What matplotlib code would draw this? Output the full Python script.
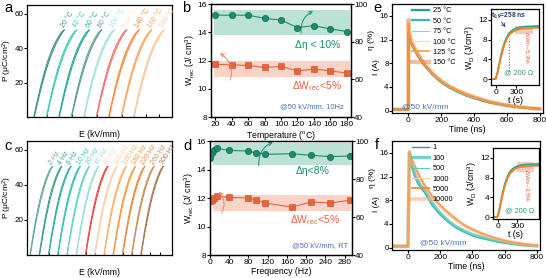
import matplotlib
matplotlib.use("Agg")
import matplotlib.pyplot as plt
import numpy as np

plt.rcParams['font.family'] = ['Liberation Sans', 'DejaVu Sans']
plt.rcParams['mathtext.default'] = 'regular'
plt.rcParams['font.size'] = 6
plt.rcParams['axes.linewidth'] = 0.9
plt.rcParams['xtick.major.size'] = 2.2
plt.rcParams['ytick.major.size'] = 2.2
plt.rcParams['xtick.major.pad'] = 1.0
plt.rcParams['ytick.major.pad'] = 0.7

# ---------- data ----------
# P-E loop shape (one branch up, one down), shifted per curve
pe_E = [0, 4, 8, 12, 16, 20, 24, 28, 32, 36, 40, 44, 48]
pe_P_up = [0, 6.4, 12.5, 18.2, 23.5, 28.4, 32.8, 36.7, 40.2, 43.3, 46.0, 48.4, 50.5]
pe_P_down = [1.0, 7.8, 14.3, 20.2, 25.6, 30.5, 34.8, 38.6, 41.9, 44.8, 47.3, 49.3, 50.5]

a_labels = ['20 °C', '40 °C', '60 °C', '80 °C', '100 °C', '120 °C', '140 °C', '160 °C', '180 °C']
a_shift = [0, 20, 40, 60, 80, 100, 120, 140, 160]
a_colors = ['#3a8f80', '#3ccab8', '#22a898', '#5a9c90', '#a0e4d4', '#f07070', '#f88a3c', '#fba560', '#fcc79a']
a_text_colors = ['#3a8f80', '#3ccab8', '#22a898', '#5a9c90', '#a0e4d4', '#fde5cc', '#f88a3c', '#fba560', '#fcc79a']

c_labels = ['2 Hz', '4 Hz', '8 Hz', '10 Hz', '20 Hz', '40 Hz', '60 Hz', '100 Hz', '120 Hz',
            '180 Hz', '220 Hz', '260 Hz', '300 Hz']
c_shift = [0, 20, 40, 60, 80, 100, 120, 140, 160, 180, 200, 220, 240]
c_colors = ['#6aa89c', '#3aa090', '#2fb0a0', '#2ec4b4', '#5fd4c4', '#a0e0d0', '#e84848', '#fcd0a8',
            '#fbb070', '#f99a40', '#e98a40', '#d09060', '#b07850']
c_text_colors = ['#6aa89c', '#3aa090', '#2fb0a0', '#2ec4b4', '#5fd4c4', '#a0e0d0', '#fbe0c8', '#fcd0a8',
                 '#fbb070', '#f99a40', '#e98a40', '#d09060', '#b07850']

# panel b: temperature stability
b_T = [20, 40, 60, 80, 100, 120, 140, 160, 180]
b_eta = [94.1, 94.1, 94.1, 92.4, 91.5, 87.5, 88.5, 86.8, 85.4]
b_W = [11.74, 11.69, 11.65, 11.51, 11.58, 11.27, 11.39, 11.27, 11.11]

# panel d: frequency stability
d_f = [1, 4, 8, 14, 40, 80, 95, 115, 170, 210, 250, 290]
d_eta = [91.2, 93.9, 95.3, 96.1, 95.1, 94.7, 93.8, 93.0, 93.3, 92.5, 91.8, 92.1]
d_W = [11.77, 11.88, 12.0, 12.12, 12.05, 12.0, 11.88, 11.65, 11.36, 11.72, 11.65, 11.84]

# panel e: discharge current vs temperature
e_t = [-100, -1, 0, 4, 10, 25, 50, 75, 100, 150, 200, 250, 300, 350, 400, 450, 500, 550, 600, 650, 700, 750, 800]
e_I_25 = [0.2, 0.2, 13.0, 12.6, 12.0, 10.9, 9.6, 8.5, 7.6, 6.0, 4.8, 3.9, 3.2, 2.6, 2.1, 1.7, 1.35, 1.1, 0.85, 0.65, 0.5, 0.4, 0.3]
e_I_50 = [0.2, 0.2, 13.3, 12.8, 12.1, 11.0, 9.7, 8.6, 7.6, 6.0, 4.8, 3.9, 3.2, 2.6, 2.2, 1.8, 1.4, 1.15, 0.9, 0.7, 0.55, 0.4, 0.3]
e_I_75 = [0.2, 0.2, 13.6, 12.9, 12.2, 11.0, 9.7, 8.6, 7.7, 6.1, 4.9, 4.0, 3.3, 2.7, 2.2, 1.8, 1.45, 1.15, 0.9, 0.7, 0.55, 0.4, 0.3]
e_I_100 = [0.2, 0.2, 14.2, 13.0, 12.3, 11.1, 9.8, 8.7, 7.7, 6.1, 4.9, 4.0, 3.3, 2.7, 2.2, 1.8, 1.45, 1.15, 0.9, 0.7, 0.55, 0.4, 0.3]
e_I_125 = [0.2, 0.2, 14.8, 13.1, 12.4, 11.2, 9.9, 8.8, 7.8, 6.2, 5.0, 4.1, 3.4, 2.8, 2.3, 1.85, 1.45, 1.15, 0.9, 0.7, 0.55, 0.4, 0.3]
e_I_150 = [0.2, 0.2, 15.3, 13.2, 12.4, 11.2, 9.9, 8.8, 7.8, 6.2, 5.0, 4.1, 3.4, 2.8, 2.3, 1.85, 1.45, 1.15, 0.9, 0.7, 0.55, 0.4, 0.3]
e_names = ['25 °C', '50 °C', '75 °C', '100 °C', '125 °C', '150 °C']

# panel f: discharge current vs cycles
f_t = [-100, -1, 8, 15, 25, 50, 75, 100, 150, 200, 250, 300, 350, 400, 450, 500, 550, 600, 650, 700, 750, 800]
f_I_1 = [0.2, 0.2, 15.8, 14.6, 13.4, 11.4, 10.2, 9.4, 7.1, 5.5, 4.3, 3.3, 2.6, 2.0, 1.6, 1.3, 1.0, 0.8, 0.6, 0.45, 0.35, 0.3]
f_I_100 = [0.2, 0.2, 16.0, 14.9, 13.7, 11.8, 10.6, 9.9, 7.5, 5.8, 4.5, 3.5, 2.8, 2.2, 1.8, 1.45, 1.15, 0.9, 0.7, 0.5, 0.4, 0.3]
f_I_500 = [0.2, 0.2, 16.0, 14.8, 13.6, 11.6, 10.4, 9.6, 7.3, 5.6, 4.4, 3.4, 2.7, 2.1, 1.7, 1.35, 1.05, 0.85, 0.65, 0.5, 0.35, 0.3]
f_I_1000 = [0.3, 0.3, 16.2, 15.4, 14.6, 13.2, 11.8, 10.6, 8.6, 7.1, 5.8, 4.7, 3.7, 3.0, 2.4, 1.9, 1.5, 1.15, 0.9, 0.65, 0.5, 0.35]
f_I_5000 = [0.3, 0.3, 16.3, 15.5, 14.7, 13.3, 11.9, 10.7, 8.7, 7.2, 5.9, 4.8, 3.8, 3.1, 2.5, 2.0, 1.55, 1.2, 0.9, 0.7, 0.5, 0.35]
f_I_10000 = [0.3, 0.3, 16.1, 15.3, 14.5, 13.1, 11.7, 10.5, 8.5, 7.0, 5.7, 4.6, 3.7, 3.0, 2.4, 1.9, 1.5, 1.15, 0.9, 0.65, 0.5, 0.35]
f_names = ['1', '100', '500', '1000', '5000', '10000']

# insets: discharged energy density
wd_t = [-70, -5, 0, 25, 50, 75, 100, 125, 150, 175, 200, 250, 300, 350, 400, 450, 500, 550, 600, 630]
wd_teal = [0, 0, 0.1, 1.4, 3.1, 4.8, 6.2, 7.3, 8.2, 8.9, 9.4, 10.0, 10.3, 10.5, 10.6, 10.65, 10.7, 10.72, 10.75, 10.75]
wd_orange = [0, 0, 0.1, 1.2, 2.8, 4.4, 5.8, 6.9, 7.8, 8.5, 9.0, 9.6, 9.95, 10.15, 10.25, 10.3, 10.35, 10.38, 10.4, 10.4]

e_styles = [('#2aa090', 1.6, 1.0), ('#30bfb0', 1.6, 1.0), ('#7adccc', 0.8, 1.0),
            ('#fdd9b5', 0.8, 1.0), ('#f7a040', 1.2, 1.0), ('#f08a40', 3.0, 0.55)]
f_styles = [('#2a9c90', 1.0, 1.0), ('#40c0b0', 2.4, 0.7), ('#50d0c0', 0.7, 1.0),
            ('#fcd0a0', 0.8, 1.0), ('#f58a2a', 1.3, 1.0), ('#f8b080', 2.6, 0.6)]

green = '#1b8c6e'
green_dark = '#0e5e48'
orange = '#e8623a'
blue_txt = '#4a72c0'

fig = plt.figure(figsize=(5.46, 2.78), dpi=100)


def pe_panel(ax, shifts, colors, labels, text_colors, xlim, txt_dx, txt_y):
    for s, col, lab, tc in zip(shifts, colors, labels, text_colors):
        E = np.array(pe_E) + s
        ax.plot(E, pe_P_up, color=col, lw=0.8)
        ax.plot(E, pe_P_down, color=col, lw=0.8)
        ax.text(E[-1] + txt_dx, txt_y, lab, color=tc, fontsize=5.0, rotation=57,
                rotation_mode='anchor', ha='left', va='baseline')
    ax.set_xlim(xlim)
    ax.set_ylim(0, 65)
    ax.set_yticks([20, 40, 60])
    ax.set_xticks(shifts + [shifts[-1] + 20, shifts[-1] + 40])
    ax.tick_params(axis='x', direction='in', labelbottom=False, length=2.2)
    ax.tick_params(axis='y', labelsize=5.8, length=2.0, pad=0.4)
    ax.set_xlabel('E (kV/mm)', fontsize=6.2, labelpad=9)
    ax.set_ylabel('P (μC/cm$^2$)', fontsize=6.0, labelpad=0.3)


ax_a = fig.add_axes([0.0495, 0.579, 0.2656, 0.403])
pe_panel(ax_a, a_shift, a_colors, a_labels, a_text_colors, (-11.6, 221), -1, 51.5)
ax_c = fig.add_axes([0.0495, 0.0827, 0.2656, 0.41])
pe_panel(ax_c, c_shift, c_colors, c_labels, c_text_colors, (-7, 307), -1, 51.5)


def stab_panel(ax, x, eta, W, xlim, xticks, xlabel, gband, oband, texts, garrow, oarrow):
    ax.axhspan(gband[0], gband[1], xmin=0.02, xmax=0.99, color='#8fd0b8', alpha=0.6, lw=0)
    ax.axhspan(oband[0], oband[1], xmin=0.02, xmax=0.99, color='#f5b8a0', alpha=0.6, lw=0)
    ax.plot(x, W, color=orange, lw=0.8, marker='s', ms=4.2, mfc=orange, mec='#c84a28', mew=0.4)
    ax.set_xlim(xlim)
    ax.set_ylim(8, 16)
    ax.set_yticks([8, 10, 12, 14, 16])
    ax.set_xticks(xticks)
    ax.set_xlabel(xlabel, fontsize=6.3, labelpad=0.5)
    ax.set_ylabel('W$_{rec}$ (J/ cm$^3$)', fontsize=6.3, labelpad=0.5)
    ax2 = ax.twinx()
    ax2.plot(x, eta, color=green, lw=0.8, marker='o', ms=4.6, mfc=green, mec=green_dark, mew=0.4)
    ax2.set_ylim(40, 100)
    ax2.set_yticks([40, 60, 80, 100])
    ax2.tick_params(labelsize=5.8, length=2.0, pad=0.4)
    ax2.set_ylabel('η (%)', fontsize=6.0, labelpad=0.2)
    ax2.yaxis.label.set_y(0.68)
    t1, t2, t3 = texts
    ax.text(t1[0], t1[1], t1[2], transform=ax.transAxes, color=green, fontsize=7.5, ha='center', va='center')
    ax.text(t2[0], t2[1], t2[2], transform=ax.transAxes, color=orange, fontsize=7.5, ha='center', va='center')
    ax.text(t3[0], t3[1], t3[2], transform=ax.transAxes, color=blue_txt, fontsize=5.5, ha='center', va='center')
    ax.annotate('', xy=garrow[1], xytext=garrow[0],
                arrowprops=dict(arrowstyle='->', color=green, lw=0.7, connectionstyle='arc3,rad=-0.4'),
                annotation_clip=False)
    ax.annotate('', xy=oarrow[1], xytext=oarrow[0],
                arrowprops=dict(arrowstyle='->', color='#f08060', lw=0.7, connectionstyle='arc3,rad=0.4'),
                annotation_clip=False)
    return ax2


ax_b = fig.add_axes([0.3864, 0.579, 0.2564, 0.4065])
stab_panel(ax_b, b_T, b_eta, b_W, (15, 185), [20, 40, 60, 80, 100, 120, 140, 160, 180],
           'Temperature ($^o$C)', (13.79, 15.58), (10.82, 11.98),
           [(0.76, 0.637, 'Δη < 10%'), (0.757, 0.274, 'ΔW$_{rec}$<5%'), (0.72, 0.097, '@50 kV/mm, 10Hz')],
           [(125, 13.74), (142, 15.58)], [(37.7, 10.43), (23, 12.63)])

ax_d = fig.add_axes([0.3846, 0.0827, 0.26, 0.41])
stab_panel(ax_d, d_f, d_eta, d_W, (0, 295), [0, 40, 80, 120, 160, 200, 240, 280],
           'Frequency (Hz)', (14.35, 15.88), (11.06, 12.24),
           [(0.725, 0.737, 'Δη<8%'), (0.74, 0.31, 'ΔW$_{rec}$<5%'), (0.775, 0.085, '@50 kV/mm, RT')],
           [(102, 14.07), (136, 16.0)], [(21.5, 10.78), (15, 12.58)])


def current_panel(ax, t, series, names, styles, txt_pos):
    for I, name, (col, lw, al) in zip(series, names, styles):
        ax.plot(t, I, color=col, lw=lw, alpha=al, label=name)
    ax.set_xlim(-100, 820)
    ax.set_ylim(-0.4, 18)
    ax.set_xticks([0, 200, 400, 600, 800])
    ax.set_yticks([0, 4, 8, 12, 16])
    ax.tick_params(axis='y', labelsize=5.8, length=2.0, pad=0.4)
    ax.set_xlabel('Time (ns)', fontsize=6.3, labelpad=0.5)
    ax.set_ylabel('I (A)', fontsize=6.0, labelpad=0.1)
    ax.yaxis.label.set_y(0.42)
    ax.legend(loc='upper left', bbox_to_anchor=(0.1, 1.02), frameon=False, fontsize=5.3,
              handlelength=2.3, labelspacing=0.45, handletextpad=0.5, borderpad=0.2)
    ax.text(txt_pos[0], txt_pos[1], '@50 kV/mm', transform=ax.transAxes, color=blue_txt,
            fontsize=6, ha='center', va='center')


def inset_panel(ax, box, dtext, ylim):
    ax.add_patch(plt.Rectangle((box[0], box[2]), box[1] - box[0], box[3] - box[2],
                               color='#e8a898', alpha=0.6, lw=0))
    ax.plot(wd_t, wd_teal, color='#2aa890', lw=1.3)
    ax.plot(wd_t, wd_orange, color='#f58020', lw=1.3)
    ax.set_xlim(-70, 630)
    ax.set_ylim(ylim)
    ax.set_xticks([0, 300])
    ax.set_yticks([0, 4, 8, 12])
    ax.tick_params(labelsize=6, length=2, pad=0.7)
    ax.set_xlabel('t (s)', fontsize=6.3, labelpad=0)
    ax.set_ylabel('W$_D$ (J/cm$^3$)', fontsize=6.3, labelpad=0.5)
    ax.text(440, 6.3, dtext, color='#f05030', fontsize=4.5, rotation=-90, ha='center', va='center')
    ax.text(330, 1.3, '@ 200 Ω', color='#2a9a70', fontsize=5.3, ha='center', va='center')


ax_e = fig.add_axes([0.718, 0.5935, 0.2766, 0.392])
current_panel(ax_e, e_t, [e_I_25, e_I_50, e_I_75, e_I_100, e_I_125, e_I_150], e_names, e_styles, (0.22, 0.06))
ax_ei = fig.add_axes([0.8993, 0.6942, 0.0879, 0.2734])
inset_panel(ax_ei, (280, 547, 9.1, 10.7), 'ΔW$_D$~5.3%', (-1.2, 14.2))
ax_ei.plot([197, 197], [1.6, 8.4], color='#888888', lw=0.7, ls=(0, (1.5, 1.5)))
ax_ei.annotate('', xy=(168, 10.1), xytext=(55, 12.0),
               arrowprops=dict(arrowstyle='->', color='#1f3c78', lw=0.6))
ax_ei.text(190, 12.9, 't$_{0.9}$=258 ns', color='#1f3c78', fontsize=4.8, ha='center', va='center',
           fontweight='bold')

ax_f = fig.add_axes([0.718, 0.1007, 0.2711, 0.392])
current_panel(ax_f, f_t, [f_I_1, f_I_100, f_I_500, f_I_1000, f_I_5000, f_I_10000], f_names, f_styles, (0.345, 0.067))
ax_fi = fig.add_axes([0.9029, 0.2122, 0.0842, 0.2554])
inset_panel(ax_fi, (300, 560, 9.1, 11.1), 'ΔW$_D$~3.5%', (-0.4, 14.0))

# panel letters
for x, y, s in [(0.008, 0.995, 'a'), (0.333, 0.995, 'b'), (0.683, 0.995, 'e'),
                (0.008, 0.5, 'c'), (0.335, 0.5, 'd'), (0.686, 0.505, 'f')]:
    fig.text(x, y, s, fontsize=10.5, va='top', ha='left')

fig.savefig('out.png', dpi=100)
